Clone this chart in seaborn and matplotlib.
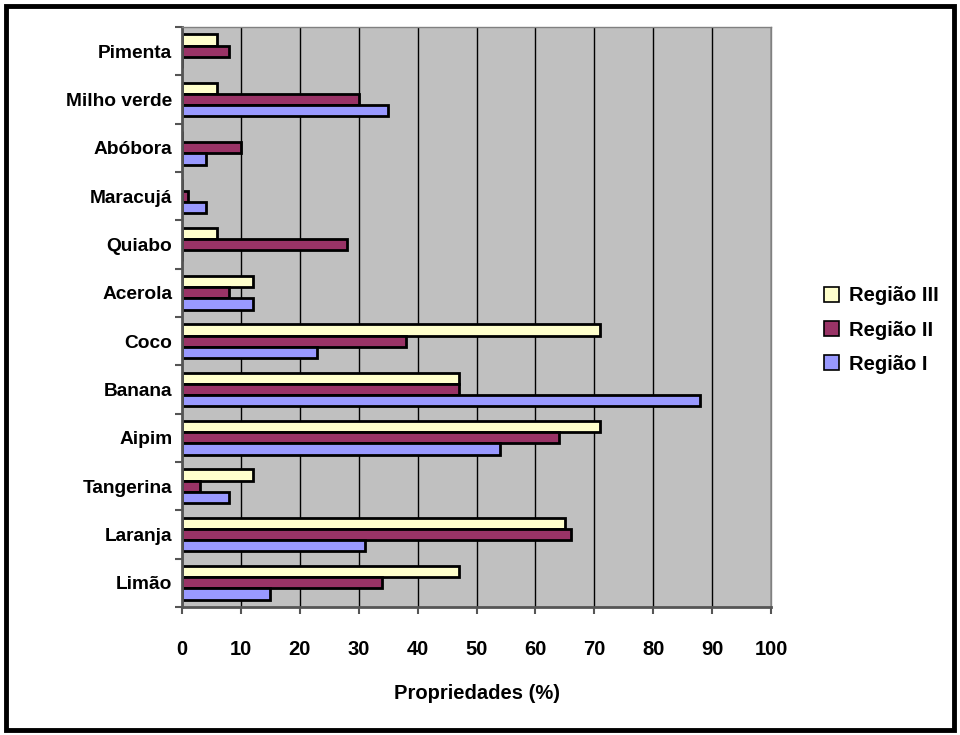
import matplotlib
matplotlib.use("Agg")
import matplotlib.pyplot as plt
from matplotlib.patches import Rectangle, Patch
import numpy as np
import pandas as pd
import seaborn as sns

categories = ["Pimenta", "Milho verde", "Abóbora", "Maracujá", "Quiabo", "Acerola",
              "Coco", "Banana", "Aipim", "Tangerina", "Laranja", "Limão"]
regiao_iii = [6, 6, 0, 0, 6, 12, 71, 47, 71, 12, 65, 47]
regiao_ii = [8, 30, 10, 1, 28, 8, 38, 47, 64, 3, 66, 34]
regiao_i = [0, 35, 4, 4, 0, 12, 23, 88, 54, 8, 31, 15]
series_names = ["Região III", "Região II", "Região I"]
colors = ["#FFFFCC", "#993366", "#9999FF"]
x_ticks = list(range(0, 101, 10))

rows = []
for name, vals in zip(series_names, [regiao_iii, regiao_ii, regiao_i]):
    for cat, v in zip(categories, vals):
        rows.append({"cat": cat, "val": v, "regiao": name})
df = pd.DataFrame(rows)

sns.set_theme(style="white")
plt.rcParams["font.family"] = ["Liberation Sans", "DejaVu Sans"]
plt.rcParams["font.weight"] = "bold"
plt.rcParams["text.color"] = "black"
plt.rcParams["xtick.labelcolor"] = "black"
plt.rcParams["ytick.labelcolor"] = "black"

fig = plt.figure(figsize=(9.6, 7.35), dpi=100)
ax = fig.add_axes([182 / 960, 1 - 607 / 735, (771 - 182) / 960, (607 - 27) / 735])
ax.set_facecolor("#C0C0C0")

sns.barplot(data=df, y="cat", x="val", hue="regiao", order=categories,
            hue_order=series_names, palette=colors, orient="h", width=0.69,
            saturation=1, edgecolor="black", linewidth=2.0, legend=False, ax=ax)

ax.set_xlim(0, 100)
ax.set_ylim(len(categories) - 0.5, -0.5)
ax.set_xticks(x_ticks)
ax.set_xticklabels([str(t) for t in x_ticks], fontsize=14.5, fontweight="bold", color="black")
ax.set_yticks(range(len(categories)))
ax.set_yticklabels(categories, fontsize=13.8, fontweight="bold", color="black")
ax.set_yticks(np.arange(-0.5, len(categories), 1.0), minor=True)
ax.tick_params(axis="y", which="major", length=0, pad=7)
ax.tick_params(axis="y", which="minor", length=5, width=1.5, color="#555555", direction="out", left=True)
ax.tick_params(axis="x", which="major", length=5, width=1.5, color="#555555", direction="out", bottom=True, pad=19)

ax.xaxis.grid(True, color="black", linewidth=1)
ax.set_axisbelow(True)
ax.set_xlabel("Propriedades (%)", fontsize=14.5, fontweight="bold", color="black", labelpad=18)
ax.set_ylabel("")

for side in ["left", "bottom"]:
    ax.spines[side].set_color("#555555")
    ax.spines[side].set_linewidth(2)
for side in ["top", "right"]:
    ax.spines[side].set_color("#808080")
    ax.spines[side].set_linewidth(1)

handles = [Patch(facecolor=c, edgecolor="black", linewidth=1.2) for c in colors]
leg = fig.legend(handles, series_names, loc="center left",
                 bbox_to_anchor=(806 / 960, 1 - 330 / 735), frameon=False,
                 prop={"size": 14.5, "weight": "bold"}, handlelength=0.75,
                 handleheight=0.75, handletextpad=0.5, labelspacing=0.75)
for t in leg.get_texts():
    t.set_color("black")

fig.patches.append(Rectangle((6 / 960, 5 / 735), 948 / 960, 724 / 735,
                             transform=fig.transFigure, fill=False,
                             edgecolor="black", linewidth=3.5))

fig.savefig("out.png", dpi=100)
